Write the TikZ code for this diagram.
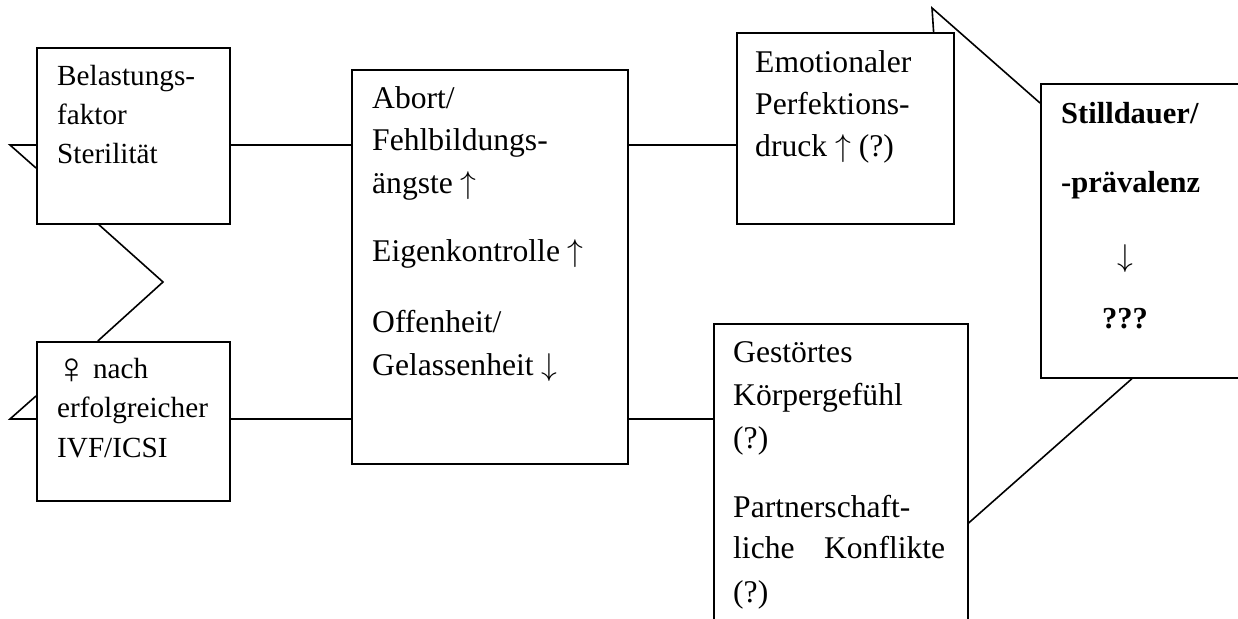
\RequirePackage{fix-cm}
\documentclass[tikz,border=0pt]{standalone}
\usepackage{fontspec}
\setmainfont{Liberation Serif}
\newcommand{\myup}{$\uparrow$}
\newcommand{\mydown}{$\downarrow$}
\newcommand{\venus}{\raisebox{-0.18em}{\scalebox{1.5}{♀}}}
\begin{document}
\begin{tikzpicture}[x=1pt,y=-1pt,
  box/.style={draw,line width=1.6pt,fill=white,inner sep=0pt,anchor=north west},
  stxt/.style={anchor=base west,inner sep=0pt,font=\fontsize{29.2}{35}\selectfont},
  txt/.style={anchor=base west,inner sep=0pt,font=\fontsize{31.6}{38}\selectfont},
  btxt/.style={anchor=base west,inner sep=0pt,font=\fontsize{30.5}{36}\selectfont\bfseries},
  conn/.style={line width=1.6pt}]
\useasboundingbox (0,0) rectangle (1238,618);
\clip (0,0) rectangle (1238,618);
% boxes
\node[box,minimum width=193pt,minimum height=176pt] (A) at (36,47) {};
\node[box,minimum width=193pt,minimum height=159pt] (B) at (36,341) {};
\node[box,minimum width=276pt,minimum height=394pt] (C) at (351,69) {};
\node[box,minimum width=217pt,minimum height=191pt] (D) at (736,32) {};
\node[box,minimum width=210pt,minimum height=294pt] (E) at (1040,83) {};
\node[box,minimum width=254pt,minimum height=330pt] (F) at (713,323) {};
% free points
\coordinate (p1) at (10,145);
\coordinate (p1b) at (36,168);
\coordinate (p2) at (10,419);
\coordinate (p2b) at (36,396);
\coordinate (z) at (163,282);
\coordinate (t3) at (932,8);
% connectors
\draw[conn] (A.west |- p1) -- (p1) -- (p1b);
\draw[conn] (B.west |- p2) -- (p2) -- (p2b);
\draw[conn] (A.east |- p1) -- (C.west |- p1);
\draw[conn] (B.east |- p2) -- (C.west |- p2);
\draw[conn] (C.east |- p1) -- (D.west |- p1);
\draw[conn] (C.east |- p2) -- (F.west |- p2);
\draw[conn] ([xshift=-34.5pt]A.south) -- (z) -- ([xshift=-35.5pt]B.north);
\draw[conn] ([xshift=-21pt]D.north east) -- (t3) -- ([yshift=-20pt]E.north west);
\draw[conn] ([xshift=92pt]E.south west) -- ([yshift=-200pt]F.north east);
% texts box A
\node[stxt] (a1) at (57,85) {Belastungs-};
\node[stxt] (a2) at (57,124) {faktor};
\node[stxt] (a3) at (57,163) {Sterilität};
% box B
\node[stxt] (b1) at (55,378) {\venus\hspace{5pt}nach};
\node[stxt] (b2) at (57,417) {erfolgreicher};
\node[stxt] (b3) at (57,457) {IVF/ICSI};
% box C
\node[txt] (c1) at (372,108) {Abort/};
\node[txt] (c2) at (372,150) {Fehlbildungs-};
\node[txt] (c3) at (372,193) {ängste \myup};
\node[txt] (c4) at (372,261) {Eigenkontrolle \myup};
\node[txt] (c5) at (372,332) {Offenheit/};
\node[txt] (c6) at (372,375) {Gelassenheit \mydown};
% box D
\node[txt] (d1) at (755,72) {Emotionaler};
\node[txt] (d2) at (755,114) {Perfektions-};
\node[txt] (d3) at (755,156) {druck \myup{} (?)};
% box E
\node[btxt] (e1) at (1061,123) {Stilldauer/};
\node[btxt] (e2) at (1061,192) {-prävalenz};
\node[txt] (e3) at (1117,266) {\mydown};
\node[btxt] (e4) at (1102,328) {???};
% box F
\node[txt] (f1) at (733,362) {Gestörtes};
\node[txt] (f2) at (733,405) {Körpergefühl};
\node[txt] (f3) at (733,448) {(?)};
\node[txt] (f4) at (733,517) {Partnerschaft-};
\node[txt] (f5) at (733,558) {\makebox[212pt][s]{liche Konflikte}};
\node[txt] (f6) at (733,602) {(?)};
\end{tikzpicture}
\end{document}
